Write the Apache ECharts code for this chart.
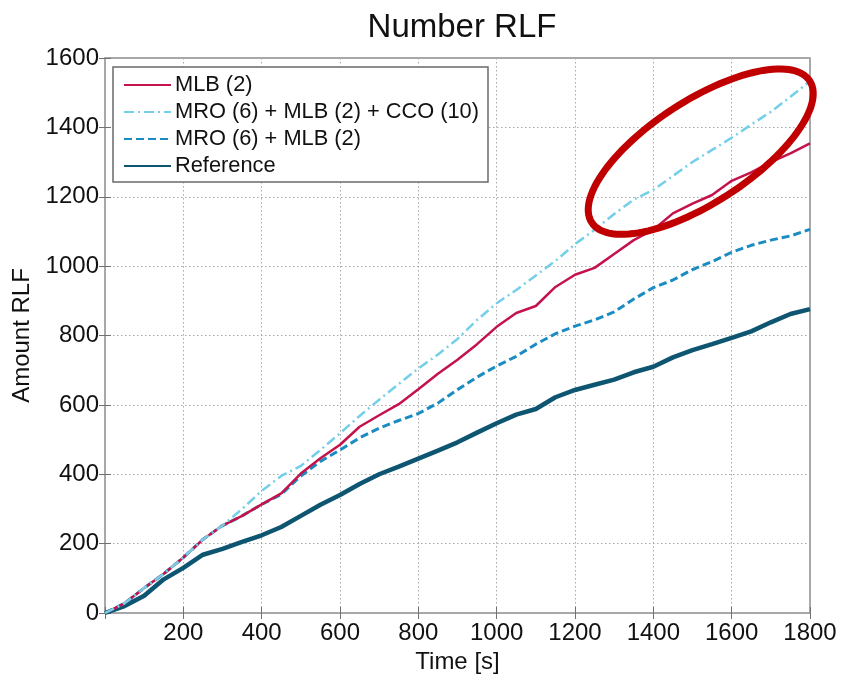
<!DOCTYPE html>
<html><head><meta charset="utf-8">
<script src="https://cdn.jsdelivr.net/npm/echarts@6/dist/echarts.min.js"></script>
<style>html,body{margin:0;padding:0;background:#fff}#c{width:842px;height:674px}</style>
</head><body><div id="c"></div><script>
const times = [0,50,100,150,200,250,300,350,400,450,500,550,600,650,700,750,800,850,900,950,1000,1050,1100,1150,1200,1250,1300,1350,1400,1450,1500,1550,1600,1650,1700,1750,1800];
const mlb = [0,28,72,113,160,212,252,280,313,345,402,446,485,537,570,602,645,690,730,775,825,865,885,940,975,995,1035,1075,1105,1152,1180,1205,1246,1270,1300,1325,1354];
const mroMlbCco = [0,28,72,113,160,212,252,300,352,395,424,470,518,568,615,660,705,745,790,845,893,931,973,1015,1063,1105,1150,1192,1220,1260,1300,1335,1370,1408,1445,1488,1533];
const mroMlb = [0,28,72,113,160,212,252,280,313,342,395,437,470,505,533,555,575,605,644,680,712,740,775,805,827,845,868,905,938,960,990,1013,1040,1060,1075,1087,1106];
const reference = [0,20,50,97,130,168,185,205,224,248,280,312,340,372,400,422,445,468,492,520,547,572,588,622,643,658,673,694,710,737,758,775,793,812,838,862,876];
const seriesNames = ['MLB (2)','MRO (6) + MLB (2) + CCO (10)','MRO (6) + MLB (2)','Reference'];
const highlightCenter = [1521, 1330];

const pairs = arr => times.map((t,i)=>[t,arr[i]]);
const F = 'Liberation Sans, Arial, sans-serif';
const chart = echarts.init(document.getElementById('c'), null, {renderer:'canvas'});
const gridLine = {show:true, lineStyle:{color:'#a8a8a8', width:1, type:[1.5,2.5]}};
const tick = {show:true, inside:true, length:6, lineStyle:{color:'#707070', width:1}};
chart.setOption({
  animation:false,
  backgroundColor:'#fff',
  title:{text:'Number RLF', left:457, textAlign:'center', top:6, textStyle:{fontFamily:F, fontSize:33, fontWeight:'normal', color:'#111'}},
  grid:{left:105, right:32, top:58, bottom:61, show:true, borderColor:'#8c8c8c', borderWidth:1.5, backgroundColor:'#fff', containLabel:false, outerBoundsMode:'none'},
  legend:{
    orient:'vertical', left:113, top:67, padding:[7,9,5,10], itemGap:5, itemWidth:47, itemHeight:14,
    backgroundColor:'#fff', borderColor:'#6a6a6a', borderWidth:1.5, borderRadius:0,
    itemStyle:{opacity:0},
    textStyle:{fontFamily:F, fontSize:21.8, lineHeight:22, color:'#111', padding:[0,0,0,-1]},
    data:seriesNames
  },
  xAxis:[{
    type:'value', min:0, max:1800, interval:200,
    name:'Time [s]', nameLocation:'middle', nameGap:33,
    nameTextStyle:{fontFamily:F, fontSize:24, color:'#111'},
    axisLine:{show:false}, axisTick:tick, splitLine:gridLine,
    axisLabel:{fontFamily:F, fontSize:24, color:'#111', margin:8, formatter:v=> v===0?'':String(v)}
  },{
    type:'value', min:0, max:1800, interval:200, position:'top',
    axisLine:{show:false}, axisTick:tick, splitLine:{show:false}, axisLabel:{show:false}
  }],
  yAxis:[{
    type:'value', min:0, max:1600, interval:200,
    name:'Amount RLF', nameLocation:'middle', nameGap:67, nameRotate:90,
    nameTextStyle:{fontFamily:F, fontSize:24, color:'#111'},
    axisLine:{show:false}, axisTick:tick, splitLine:gridLine,
    axisLabel:{fontFamily:F, fontSize:24, color:'#111', margin:6, formatter:v=>String(v)}
  },{
    type:'value', min:0, max:1600, interval:200, position:'right',
    axisLine:{show:false}, axisTick:tick, splitLine:{show:false}, axisLabel:{show:false}
  }],
  series:[
    {name:seriesNames[3], type:'line', data:pairs(reference), symbol:'none', z:2,
      lineStyle:{color:'#0d5571', width:4.5}, itemStyle:{color:'#0d5571'}},
    {name:seriesNames[2], type:'line', data:pairs(mroMlb), symbol:'none', z:3,
      lineStyle:{color:'#1a8cc2', width:3, type:[8,4]}, itemStyle:{color:'#1a8cc2'}},
    {name:seriesNames[0], type:'line', data:pairs(mlb), symbol:'none', z:4,
      lineStyle:{color:'#c4124b', width:2.5}, itemStyle:{color:'#c4124b'}},
    {name:seriesNames[1], type:'line', data:pairs(mroMlbCco), symbol:'none', z:5,
      lineStyle:{color:'#74cfe9', width:2.5, type:[10,4,2,4]}, itemStyle:{color:'#74cfe9'}}
  ]
});
// red highlight ellipse annotation
const c = chart.convertToPixel({xAxisIndex:0, yAxisIndex:0}, highlightCenter);
const a = 130, b = 51, th = -33 * Math.PI/180;
const pts = [];
for (let k=0;k<=120;k++){
  const u = k/120*2*Math.PI;
  const ex = a*Math.cos(u), ey = b*Math.sin(u);
  pts.push([c[0] + ex*Math.cos(th) - ey*Math.sin(th), c[1] + ex*Math.sin(th) + ey*Math.cos(th)]);
}
chart.setOption({graphic:[{type:'polygon', z:100, shape:{points:pts}, style:{fill:'none', stroke:'#c00000', lineWidth:7}}]});
</script></body></html>
